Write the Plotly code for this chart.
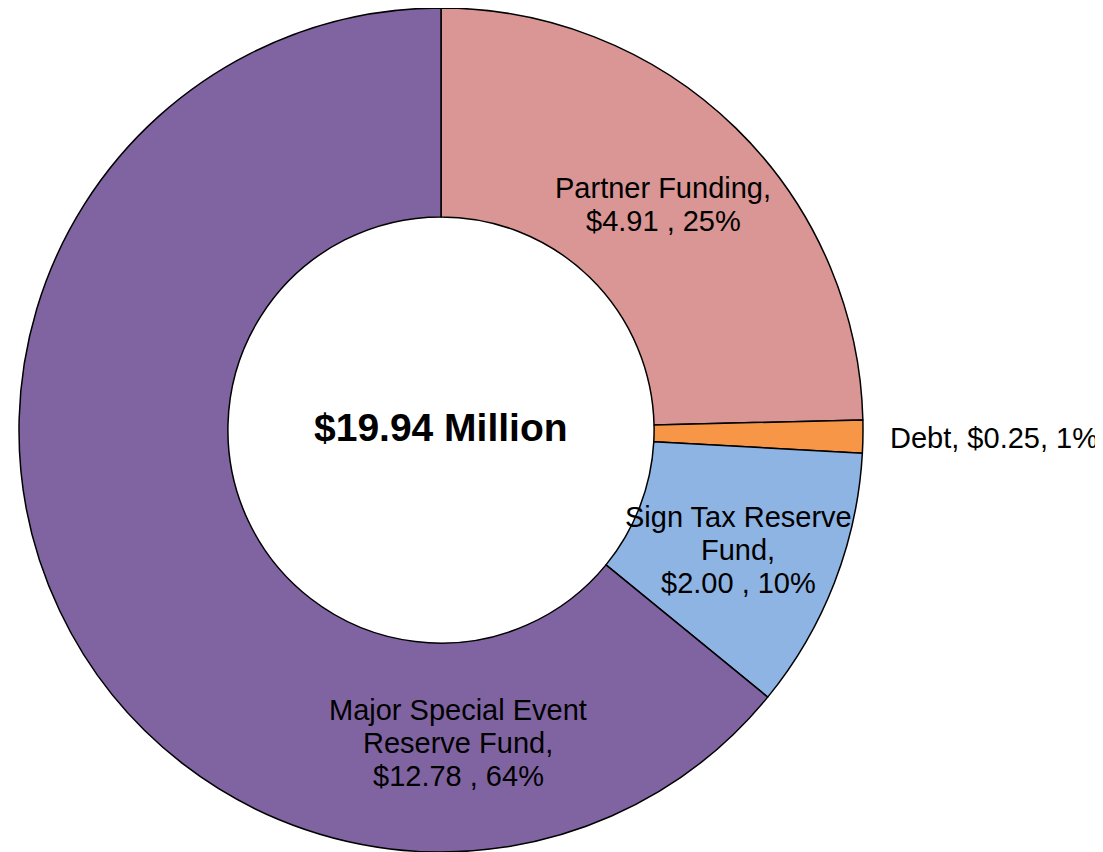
"""Donut: funding sources, $19.94 million."""

import plotly.graph_objects as go

OFF = 8  # page body margin: the plot sits 8px in from the window corner
W, H = 1103 - OFF, 852 - OFF

# data (millions of dollars)
names = ["Partner Funding", "Debt", "Sign Tax Reserve Fund", "Major Special Event Reserve Fund"]
values = [4.91, 0.25, 2.00, 12.78]
colors = ["#D99694", "#F79646", "#8EB4E3", "#8064A2"]

# how each label is wrapped in the picture
name_lines = [
    ["Partner Funding,"],
    None,  # one-line label outside the ring
    ["Sign Tax Reserve", "Fund,"],
    ["Major Special Event", "Reserve Fund,"],
]
total = sum(values)


def px(x, y):
    # screen pixel -> paper coords
    return (x - OFF) / W, 1 - (y - OFF) / H


fig = go.Figure(
    go.Pie(
        labels=names,
        values=values,
        marker=dict(colors=colors, line=dict(color="black", width=1.5)),
        hole=0.505,
        sort=False,
        direction="clockwise",
        rotation=0,
        textinfo="none",
        hoverinfo="label+value+percent",
        showlegend=False,
        domain=dict(x=[11 / W, 855 / W], y=[0, 1]),
    )
)

FONT = dict(family="Liberation Sans, Arial, sans-serif", size=29, color="black")
LINE_H = 33

# label anchors (screen pixel centre of first line) -- placement only
anchors = [(663, 188), (888, 438), (738, 517), (458, 710)]

for i, (nm, v) in enumerate(zip(names, values)):
    pct = round(100 * v / total)
    if name_lines[i] is None:
        lines = [f"{nm}, ${v:.2f}, {pct}%"]
        xa = "left"
    else:
        lines = name_lines[i] + [f"${v:.2f} , {pct}%"]
        xa = "center"
    ax, ay = anchors[i]
    for k, ln in enumerate(lines):
        x, y = px(ax, ay + k * LINE_H)
        fig.add_annotation(
            x=x, y=y, xref="paper", yref="paper",
            text=ln, showarrow=False, font=FONT,
            xanchor=xa, yanchor="middle",
        )

cx, cy = px(441, 427)
fig.add_annotation(
    x=cx, y=cy, xref="paper", yref="paper",
    text=f"<b>${total:.2f} Million</b>",
    showarrow=False,
    font=dict(family="Liberation Sans, Arial, sans-serif", size=39, color="black"),
    xanchor="center", yanchor="middle",
)

fig.update_layout(
    width=W,
    height=H,
    margin=dict(l=0, r=0, t=0, b=0),
    paper_bgcolor="white",
    plot_bgcolor="white",
)

fig.write_html("out.html")
